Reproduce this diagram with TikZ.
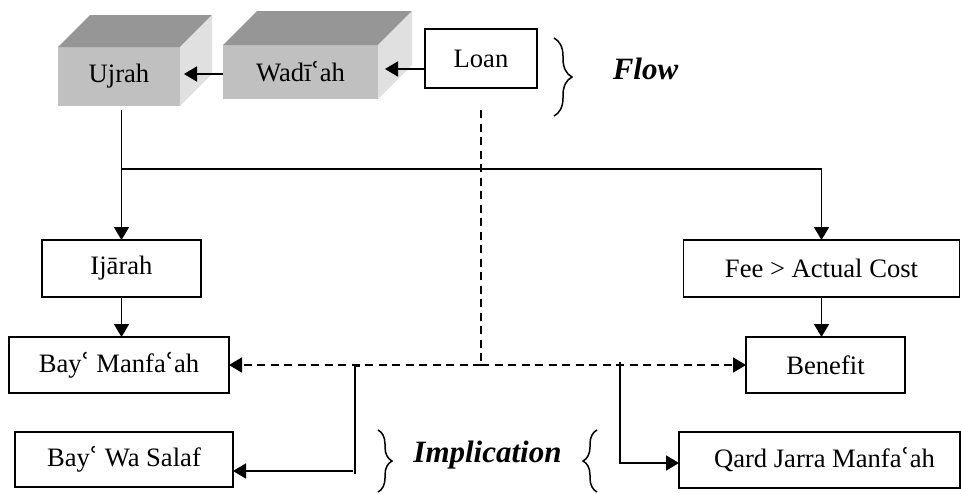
\documentclass[tikz,border=0pt]{standalone}
\usepackage{fontspec}
\setmainfont{Liberation Serif}
\newfontfamily\dvs{DejaVu Serif}
\usetikzlibrary{arrows.meta,calc,decorations.pathreplacing}
\newcommand{\ayn}{{\dvs ʿ}}
\definecolor{frontc}{HTML}{C0C0C0}
\definecolor{topc}{HTML}{969696}
\definecolor{sidec}{HTML}{E0E0E0}
\begin{document}
\begin{tikzpicture}[x=1pt,y=-1pt,
  txt/.style={font=\fontsize{26.6}{30}\selectfont},
  box/.style={txt,draw,line width=1.7pt,inner sep=0pt,outer sep=0pt},
  cube/.style={txt,fill=frontc,inner sep=0pt,outer sep=0pt},
  arr/.style={line width=1.8pt,-{Triangle[length=13pt,width=15pt]}},
  conn/.style={line width=1.8pt},
  dsh/.style={line width=1.8pt,dash pattern=on 8pt off 5.5pt},
  brc/.style={decorate,decoration={brace,amplitude=#1},line width=1.5pt},
  lbl/.style={font=\fontsize{31}{36}\selectfont\bfseries\itshape}
]
\useasboundingbox (0,0) rectangle (961,493);

% cubes
\node[cube,minimum width=122pt,minimum height=59pt] (uj) at (119,76.5) {Ujrah};
\fill[topc] (uj.north west) -- ++(32,-32) -- ($(uj.north east)+(32,-32)$) -- (uj.north east) -- cycle;
\fill[sidec] (uj.north east) -- ++(32,-32) -- ($(uj.south east)+(32,-32)$) -- (uj.south east) -- cycle;

\node[cube,minimum width=155pt,minimum height=54pt] (wad) at (300.5,72) {Wad\={\i}\ayn ah};
\fill[topc] (wad.north west) -- ++(34,-34) -- ($(wad.north east)+(34,-34)$) -- (wad.north east) -- cycle;
\fill[sidec] (wad.north east) -- ++(34,-34) -- ($(wad.south east)+(34,-34)$) -- (wad.south east) -- cycle;

% boxes
\node[box,minimum width=112pt,minimum height=59pt] (loan) at (481,58.5) {Loan};
\node[box,minimum width=159pt,minimum height=57pt] (ij) at (121.5,268.5) {Ij\=arah};
\node[box,minimum width=276pt,minimum height=57pt] (fee) at (821.5,268.5) {Fee > Actual Cost};
\node[box,minimum width=220pt,minimum height=56pt] (bm) at (119,365) {Bay\ayn{} Manfa\ayn ah};
\node[box,minimum width=159pt,minimum height=56pt] (ben) at (825.5,365) {Benefit};
\node[box,minimum width=218pt,minimum height=55pt] (bws) at (124,459.5) {Bay\ayn{} Wa Salaf};
\node[box,minimum width=281pt,minimum height=56pt] (qard) at (819.5,460) {\hspace{10pt}Qard Jarra Manfa\ayn ah};

% labels and braces
\node[lbl,anchor=base] (flow) at (645.5,79) {Flow};
\node[lbl,anchor=base] (impl) at (487.5,462) {Implication};
\draw[brc=18pt] (554,38) -- (554,116);
\draw[brc=14pt] (378,430) -- (378,492);
\draw[brc=14pt] (597,492) -- (597,430);

% top flow arrows
\draw[arr] ($(wad.east -| loan.west)+(0,-3)$) -- ($(wad.east)+(7,-3)$);
\draw[arr] ($(wad.west)+(0,2)$) -- ($(wad.west -| uj.east)+(4,2)$);

% Ujrah down and branch
\coordinate (j0) at ($(ij.north |- uj.south)+(0,4)$);
\coordinate (j1) at (ij.north |- 0,169);
\draw[arr] (j0) -- (ij.north);
\draw[arr] (j1) -| (fee.north);
\draw[arr] (ij.south) -- (ij.south |- bm.north);
\draw[arr] (fee.south) -- (fee.south |- ben.north);

% dashed from loan
\coordinate (d0) at ($(loan.south)+(0,22)$);
\coordinate (dj) at (loan.south |- bm.east);
\draw[dsh] (d0) -- (dj);
\draw[dsh,arr] (dj) -- (bm.east);
\draw[dsh,arr] (dj) -- (ben.west);

% implication branches
\coordinate (a0) at (360,366);
\coordinate (a1) at (355,366);
\coordinate (a2) at (355,474);
\draw[conn] (a0) -- (a1) -- (a2);
\coordinate (a3) at (353,471);
\draw[arr] (a3) -- (a3 -| bws.east);

\coordinate (b0) at (620,362);
\coordinate (b1) at (620,463);
\draw[conn] (b0) -- (b1);
\draw[arr] ($(b1)+(-0.9,0)$) -- (b1 -| qard.west);
\end{tikzpicture}
\end{document}
